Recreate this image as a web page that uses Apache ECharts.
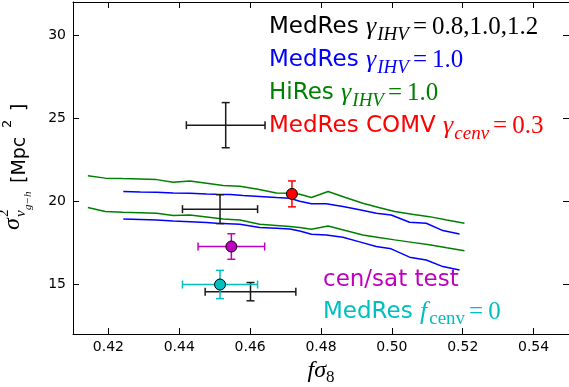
<!DOCTYPE html>
<html>
<head>
<meta charset="utf-8">
<script src="https://cdn.jsdelivr.net/npm/echarts@6/dist/echarts.min.js"></script>
<style>
html, body { margin: 0; padding: 0; background: #fff; }
#chart { width: 569px; height: 387px; }
</style>
</head>
<body>
<div id="chart"></div>
<script>
// Axis ranges and tick values
const xRange = [0.41, 0.55];
const yRange = [12, 32];
const xTickValues = [0.42, 0.44, 0.46, 0.48, 0.50, 0.52, 0.54];
const yTickValues = [15, 20, 25, 30];

// HiRes gamma_IHV = 1.0 band (upper / lower edge)
const hiresUpper = [
  [0.4142, 21.53], [0.4191, 21.39], [0.4240, 21.36], [0.4290, 21.33], [0.4336, 21.30],
  [0.4383, 21.14], [0.4430, 21.22], [0.4477, 21.08], [0.4524, 20.94], [0.4571, 20.90],
  [0.4622, 20.72], [0.4674, 20.50], [0.4712, 20.48], [0.4740, 20.42], [0.4773, 20.22],
  [0.4820, 20.58], [0.4869, 20.22], [0.4918, 19.88], [0.4963, 19.62], [0.5008, 19.38],
  [0.5057, 19.22], [0.5106, 19.07], [0.5155, 18.87], [0.5205, 18.67]
];
const hiresLower = [
  [0.4142, 19.62], [0.4191, 19.38], [0.4240, 19.34], [0.4290, 19.31], [0.4336, 19.28],
  [0.4383, 19.14], [0.4430, 19.17], [0.4477, 19.05], [0.4524, 18.93], [0.4571, 18.87],
  [0.4627, 18.61], [0.4674, 18.54], [0.4712, 18.47], [0.4740, 18.41], [0.4773, 18.31],
  [0.4820, 18.51], [0.4869, 18.23], [0.4918, 17.97], [0.4963, 17.82], [0.5008, 17.67],
  [0.5057, 17.52], [0.5106, 17.37], [0.5155, 17.19], [0.5205, 17.01]
];

// MedRes gamma_IHV = 1.0 band (upper / lower edge)
const medresUpper = [
  [0.4242, 20.58], [0.4290, 20.55], [0.4336, 20.54], [0.4383, 20.50], [0.4430, 20.48],
  [0.4477, 20.44], [0.4505, 20.42], [0.4545, 20.40], [0.4580, 20.34], [0.4627, 20.28],
  [0.4674, 20.22], [0.4712, 20.18], [0.4740, 20.00], [0.4773, 19.84], [0.4815, 19.84],
  [0.4862, 19.68], [0.4909, 19.48], [0.4956, 19.28], [0.4998, 19.17], [0.5050, 18.73],
  [0.5097, 18.67], [0.5144, 18.23], [0.5191, 18.03]
];
const medresLower = [
  [0.4242, 18.93], [0.4290, 18.90], [0.4336, 18.87], [0.4383, 18.80], [0.4430, 18.76],
  [0.4477, 18.71], [0.4505, 18.67], [0.4571, 18.61], [0.4627, 18.41], [0.4674, 18.37],
  [0.4712, 18.33], [0.4740, 18.21], [0.4773, 18.01], [0.4815, 17.97], [0.4862, 17.83],
  [0.4909, 17.55], [0.4956, 17.27], [0.4998, 17.13], [0.5050, 16.63], [0.5097, 16.46],
  [0.5144, 16.06], [0.5191, 15.86]
];

// MedRes gamma_IHV = 0.8, 1.0, 1.2 measurements
const gammaX = [0.4531, 0.4515, 0.4601];
const gammaY = [24.58, 19.52, 14.55];
const gammaXErr = [0.0111, 0.0106, 0.0128];
const gammaYErr = [1.36, 0.87, 0.55];

// MedRes COMV gamma_cenv = 0.3
const comvX = [0.4718];
const comvY = [20.44];
const comvXErr = [0];
const comvYErr = [0.78];

// cen/sat test
const censatX = [0.4547];
const censatY = [17.27];
const censatXErr = [0.0094];
const censatYErr = [0.77];

// MedRes f_cenv = 0
const fcenvX = [0.4515];
const fcenvY = [14.98];
const fcenvXErr = [0.0106];
const fcenvYErr = [0.85];

const C_BLACK = '#1a1a1a';
const C_BLUE = '#0000ff';
const C_GREEN = '#008000';
const C_RED = '#ff0000';
const C_MAGENTA = '#bf00bf';
const C_CYAN = '#00bfbf';

function rows(xs, ys, xe, ye) {
  return xs.map((x, i) => [x, ys[i], xe[i], ye[i]]);
}

// Error bars with caps, positioned through the chart's coordinate system
function errorBars(color) {
  return function (params, api) {
    const x = api.value(0), y = api.value(1), xe = api.value(2), ye = api.value(3);
    const cap = 4;
    const style = { stroke: color, lineWidth: 1.5 };
    const kids = [];
    if (xe > 0) {
      const a = api.coord([x - xe, y]);
      const b = api.coord([x + xe, y]);
      kids.push({ type: 'line', shape: { x1: a[0], y1: a[1], x2: b[0], y2: b[1] }, style });
      kids.push({ type: 'line', shape: { x1: a[0], y1: a[1] - cap, x2: a[0], y2: a[1] + cap }, style });
      kids.push({ type: 'line', shape: { x1: b[0], y1: b[1] - cap, x2: b[0], y2: b[1] + cap }, style });
    }
    if (ye > 0) {
      const a = api.coord([x, y + ye]);
      const b = api.coord([x, y - ye]);
      kids.push({ type: 'line', shape: { x1: a[0], y1: a[1], x2: b[0], y2: b[1] }, style });
      kids.push({ type: 'line', shape: { x1: a[0] - cap, y1: a[1], x2: a[0] + cap, y2: a[1] }, style });
      kids.push({ type: 'line', shape: { x1: b[0] - cap, y1: b[1], x2: b[0] + cap, y2: b[1] }, style });
    }
    return { type: 'group', children: kids };
  };
}

function bandLine(data, color) {
  return {
    type: 'line', data, showSymbol: false, smooth: false, silent: true,
    lineStyle: { color, width: 1.5 }, z: 2
  };
}

function errSeries(data, color) {
  return {
    type: 'custom', data, renderItem: errorBars(color), silent: true, z: 3,
    encode: { x: 0, y: 1 }
  };
}

function markerSeries(xs, ys, color) {
  return {
    type: 'scatter', data: xs.map((x, i) => [x, ys[i]]), symbol: 'circle', symbolSize: 11,
    itemStyle: { color, borderColor: '#000', borderWidth: 1, opacity: 1 }, silent: true, z: 4
  };
}

const SANS = 'DejaVu Sans';
const SERIF = 'Liberation Serif';

function legendRich(color) {
  return {
    t: { fontFamily: SANS, fontSize: 23, fill: color, verticalAlign: 'middle' },
    g: { fontFamily: SERIF, fontStyle: 'italic', fontSize: 26, fill: color, verticalAlign: 'middle' },
    s: { fontFamily: SERIF, fontStyle: 'italic', fontSize: 19, fill: color, verticalAlign: 'middle', padding: [15, 0, 0, 1] },
    r: { fontFamily: SERIF, fontSize: 19, fill: color, verticalAlign: 'middle', padding: [15, 0, 0, 2] },
    e: { fontFamily: SERIF, fontSize: 25, fill: color, verticalAlign: 'middle', padding: [0, 5, 0, 4] },
    n: { fontFamily: SERIF, fontSize: 25, fill: color, verticalAlign: 'middle' }
  };
}

function legendText(x, y, text, color) {
  return {
    type: 'text', x, y, silent: true, z: 10,
    style: {
      text, rich: legendRich(color), fill: color,
      textAlign: 'left', textVerticalAlign: 'middle', align: 'left', verticalAlign: 'middle'
    }
  };
}

function plainText(x, y, text, font, color) {
  return {
    type: 'text', x, y, silent: true, z: 10,
    style: {
      text, font, fill: color,
      textAlign: 'left', textVerticalAlign: 'middle', align: 'left', verticalAlign: 'middle'
    }
  };
}

const chart = echarts.init(document.getElementById('chart'), null, { renderer: 'canvas' });

const axisCommon = {
  type: 'value',
  splitLine: { show: false },
  axisLine: { show: true, onZero: false, lineStyle: { color: '#000', width: 1 } },
  axisTick: { show: true, inside: true, length: 6, lineStyle: { color: '#000', width: 1 } }
};

const option = {
  animation: false,
  backgroundColor: '#fff',
  grid: { left: 73, top: 2, width: 497, height: 332, containLabel: false },
  xAxis: [
    Object.assign({}, axisCommon, {
      min: xRange[0], max: xRange[1], position: 'bottom',
      axisTick: Object.assign({}, axisCommon.axisTick, { customValues: xTickValues }),
      axisLabel: {
        customValues: xTickValues, margin: 6, color: '#000', fontFamily: SANS, fontSize: 14,
        formatter: v => v.toFixed(2)
      }
    }),
    Object.assign({}, axisCommon, {
      min: xRange[0], max: xRange[1], position: 'top',
      axisTick: Object.assign({}, axisCommon.axisTick, { customValues: xTickValues }),
      axisLabel: { show: false }
    })
  ],
  yAxis: [
    Object.assign({}, axisCommon, {
      min: yRange[0], max: yRange[1], position: 'left',
      axisTick: Object.assign({}, axisCommon.axisTick, { customValues: yTickValues }),
      axisLabel: {
        customValues: yTickValues, margin: 7, color: '#000', fontFamily: SANS, fontSize: 14
      }
    }),
    Object.assign({}, axisCommon, {
      min: yRange[0], max: yRange[1], position: 'right',
      axisTick: Object.assign({}, axisCommon.axisTick, { customValues: yTickValues }),
      axisLabel: { show: false }
    })
  ],
  series: [
    bandLine(hiresUpper, C_GREEN),
    bandLine(hiresLower, C_GREEN),
    bandLine(medresUpper, C_BLUE),
    bandLine(medresLower, C_BLUE),
    errSeries(rows(gammaX, gammaY, gammaXErr, gammaYErr), C_BLACK),
    errSeries(rows(comvX, comvY, comvXErr, comvYErr), C_RED),
    markerSeries(comvX, comvY, C_RED),
    errSeries(rows(censatX, censatY, censatXErr, censatYErr), C_MAGENTA),
    markerSeries(censatX, censatY, C_MAGENTA),
    errSeries(rows(fcenvX, fcenvY, fcenvXErr, fcenvYErr), C_CYAN),
    markerSeries(fcenvX, fcenvY, C_CYAN)
  ],
  graphic: [
    legendText(269, 27, '{t|MedRes }{g|γ}{s|IHV}{e|=}{n|0.8,1.0,1.2}', '#000'),
    legendText(269, 60, '{t|MedRes }{g|γ}{s|IHV}{e|=}{n|1.0}', C_BLUE),
    legendText(269, 93, '{t|HiRes }{g|γ}{s|IHV}{e|=}{n|1.0}', C_GREEN),
    legendText(269, 126, '{t|MedRes COMV }{g|γ}{s|cenv}{e|=}{n|0.3}', C_RED),
    legendText(323, 280, '{t|cen/sat test}', C_MAGENTA),
    legendText(323, 312, '{t|MedRes }{g|f}{r|cenv}{e|=}{n|0}', C_CYAN),
    // x axis title: f sigma_8
    {
      type: 'text', x: 321, y: 371, silent: true, z: 10,
      style: {
        text: '{a|fσ}{b|8}',
        rich: {
          a: { fontFamily: SERIF, fontStyle: 'italic', fontSize: 24, fill: '#000', verticalAlign: 'middle' },
          b: { fontFamily: SERIF, fontSize: 17, fill: '#000', verticalAlign: 'middle', padding: [14, 0, 0, 0] }
        },
        textAlign: 'center', align: 'center', textVerticalAlign: 'middle', verticalAlign: 'middle'
      }
    },
    // y axis title: sigma^2_{v_{g-h}} [Mpc^2], read bottom to top
    {
      type: 'group', x: 22, y: 166, rotation: Math.PI / 2, silent: true,
      children: [
        plainText(-64, -9, 'σ', 'italic 24px "Liberation Serif"', '#000'),
        plainText(-51, -18, '2', '15px "Liberation Serif"', '#000'),
        plainText(-51, -1, 'v', 'italic 15px "Liberation Serif"', '#000'),
        plainText(-44, 6, 'g−h', 'italic 11px "Liberation Serif"', '#000'),
        plainText(-17, -2, '[Mpc', '19px "DejaVu Sans"', '#000'),
        plainText(38, -14, '2', '13px "DejaVu Sans"', '#000'),
        plainText(49, -2, ' ]', '19px "DejaVu Sans"', '#000')
      ]
    }
  ]
};

chart.setOption(option);
</script>
</body>
</html>
